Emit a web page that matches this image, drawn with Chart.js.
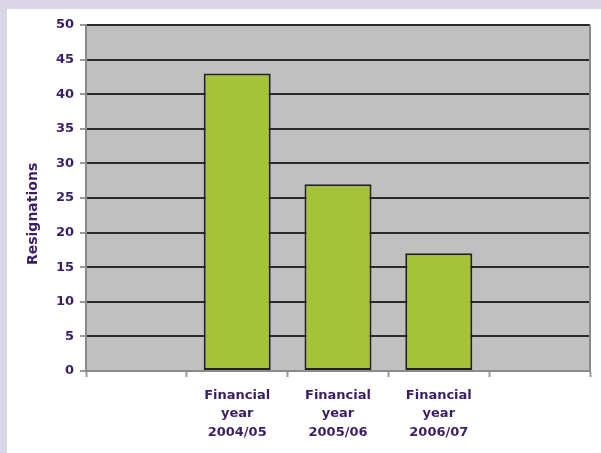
<!DOCTYPE html>
<html>
<head>
<meta charset="utf-8">
<script src="https://cdn.jsdelivr.net/npm/chart.js@4/dist/chart.umd.min.js"></script>
<style>
  html, body { margin: 0; padding: 0; background: #dad6e8; width: 601px; height: 453px; overflow: hidden; }
  #panel { position: absolute; left: 7px; top: 9px; width: 594px; height: 444px; background: #ffffff; }
  canvas { display: block; }
</style>
</head>
<body>
<div id="panel"><canvas id="c" width="594" height="444"></canvas></div>
<script>
const categories = [
  "",
  ["Financial", "year", "2004/05"],
  ["Financial", "year", "2005/06"],
  ["Financial", "year", "2006/07"],
  ""
];
const resignations = [null, 43, 27, 17, null];
const yTicks = [0, 5, 10, 15, 20, 25, 30, 35, 40, 45, 50];
const yTitle = "Resignations";

const textColor = "#3b1d66";
const fontFamily = "'DejaVu Sans', sans-serif";

const plotBg = {
  id: "plotBg",
  beforeDraw(chart) {
    const { ctx, chartArea: a } = chart;
    ctx.save();
    ctx.fillStyle = "#c0c0c0";
    ctx.fillRect(a.left, a.top, a.right - a.left, a.bottom - a.top);
    ctx.restore();
  },
  afterDraw(chart) {
    const { ctx, chartArea: a } = chart;
    ctx.save();
    ctx.strokeStyle = "#8a8a8a";
    ctx.lineWidth = 2;
    ctx.beginPath();
    ctx.moveTo(a.right, a.top);
    ctx.lineTo(a.right, a.bottom);
    ctx.stroke();
    // y-axis title
    const ys = chart.scales.y;
    ctx.fillStyle = textColor;
    ctx.font = "bold 14px " + fontFamily;
    ctx.textAlign = "center";
    ctx.textBaseline = "middle";
    ctx.translate(26, ys.getPixelForValue(22.7));
    ctx.rotate(-Math.PI / 2);
    ctx.fillText(yTitle, 0, 0);
    ctx.restore();
  }
};

new Chart(document.getElementById("c"), {
  type: "bar",
  data: {
    labels: categories,
    datasets: [{
      data: resignations,
      backgroundColor: "#a6c13a",
      borderColor: "#222222",
      borderWidth: 2,
      borderSkipped: false,
      barPercentage: 0.665,
      categoryPercentage: 1
    }]
  },
  options: {
    responsive: false,
    animation: false,
    events: [],
    layout: { padding: { left: 0, right: 11, top: 16, bottom: 0 } },
    plugins: { legend: { display: false }, tooltip: { enabled: false } },
    scales: {
      x: {
        grid: { offset: true, drawOnChartArea: false, tickLength: 6, tickColor: "#9a9a9a", tickWidth: 2 },
        border: { color: "#8a8a8a", width: 2 },
        ticks: {
          color: textColor,
          font: { family: fontFamily, size: 13, weight: "bold", lineHeight: 1.42 },
          padding: 9,
          maxRotation: 0,
          autoSkip: false
        },
        afterFit(scale) { scale.height = 82; }
      },
      y: {
        min: 0,
        max: 50,
        afterBuildTicks(scale) { scale.ticks = yTicks.map(v => ({ value: v })); },
        grid: { color: "#2a2a2a", lineWidth: 2, tickLength: 6, tickColor: "#9a9a9a", tickWidth: 2 },
        border: { color: "#8a8a8a", width: 2 },
        ticks: {
          color: textColor,
          font: { family: fontFamily, size: 13, weight: "bold" },
          padding: 6
        },
        afterFit(scale) { scale.width = 79; }
      }
    }
  },
  plugins: [plotBg]
});
</script>
</body>
</html>
